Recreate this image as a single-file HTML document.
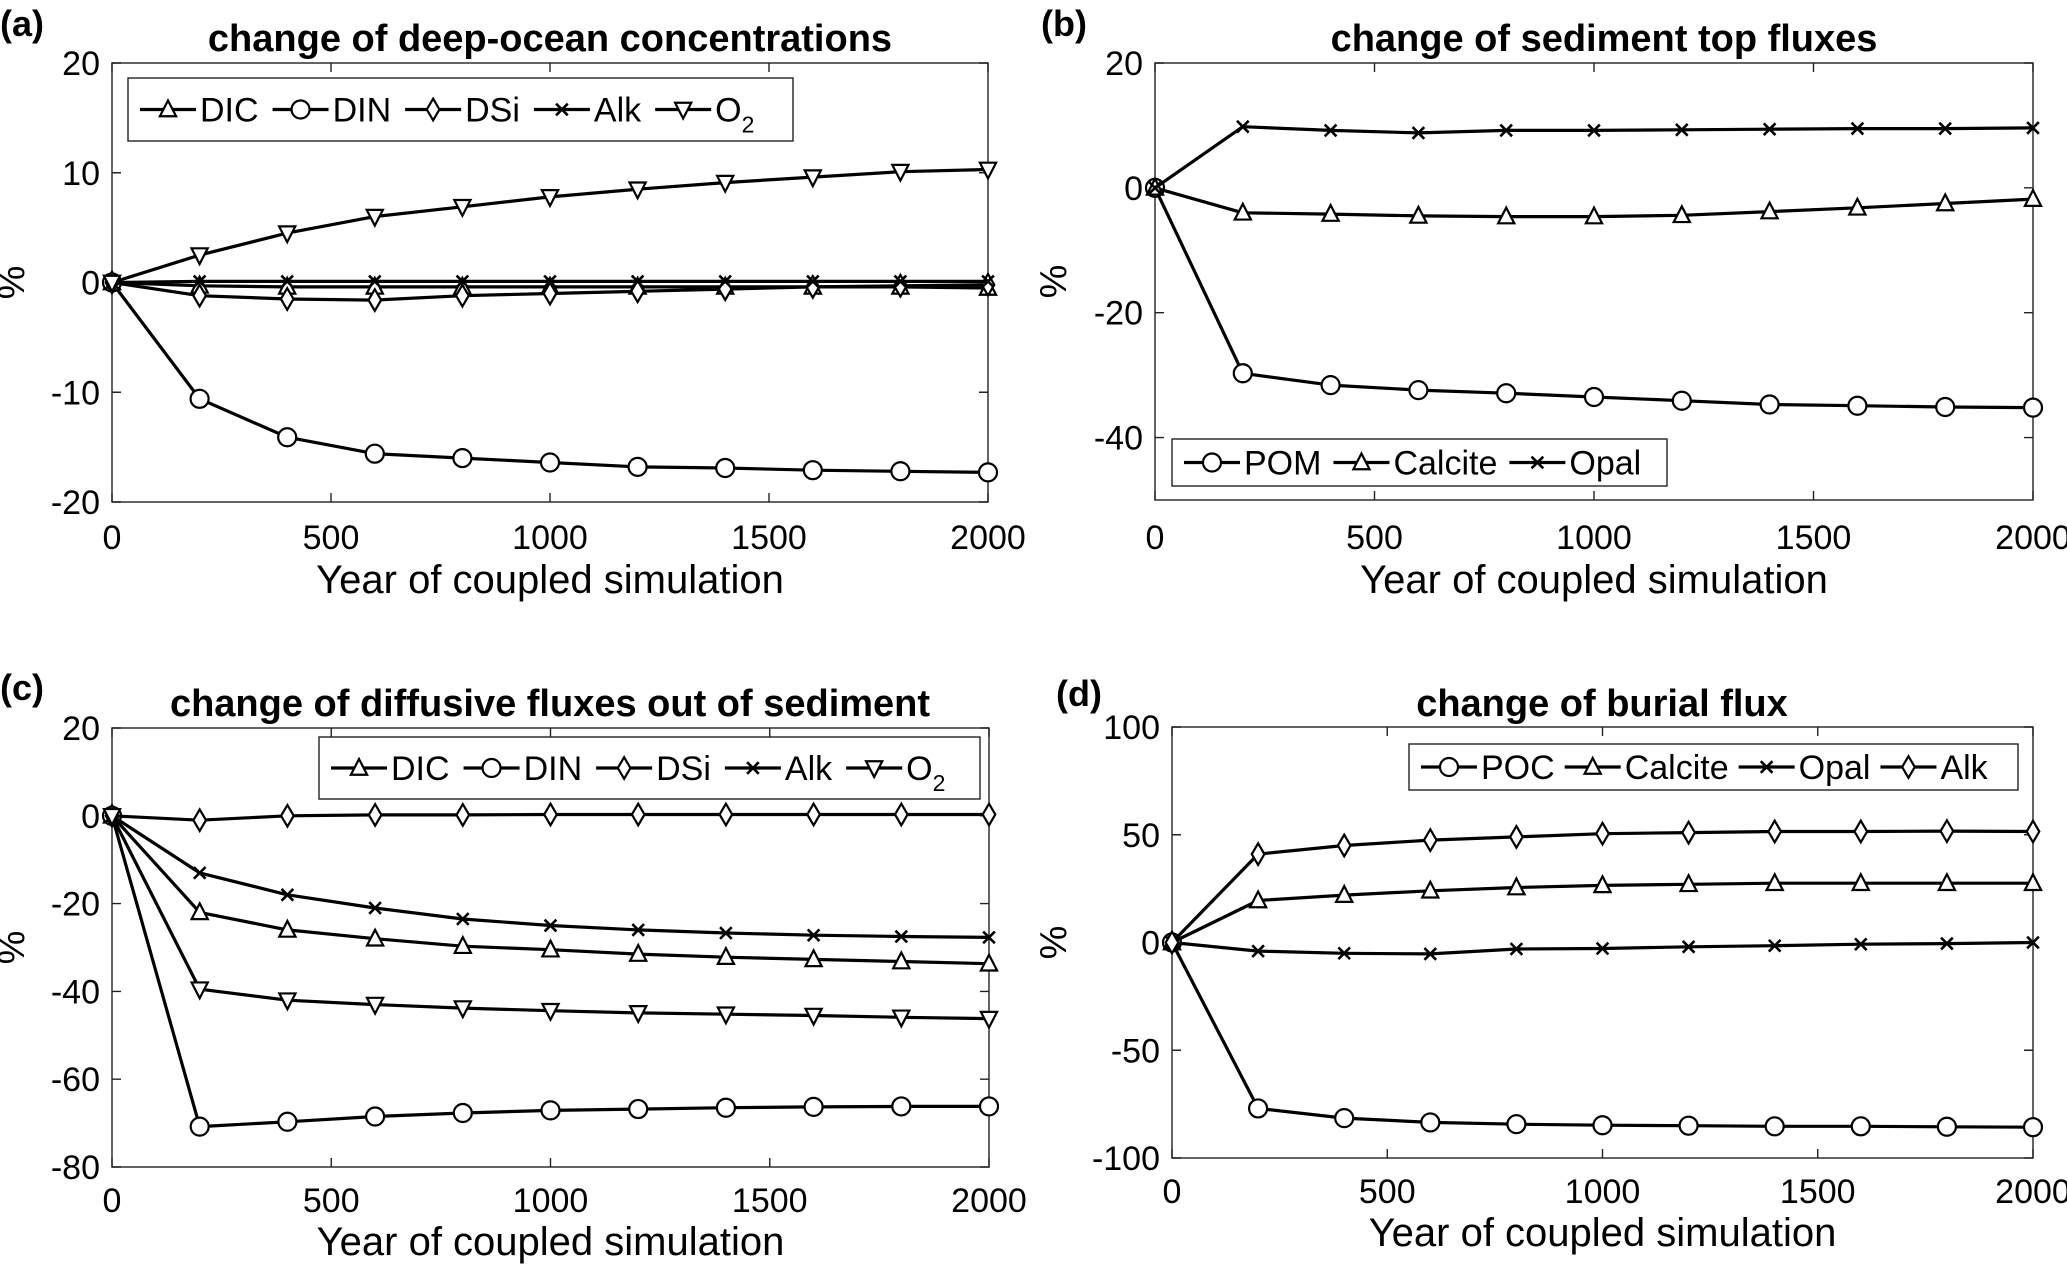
<!DOCTYPE html>
<html><head><meta charset="utf-8"><style>
html,body{margin:0;padding:0;background:#fff;}
svg text{font-family:"Liberation Sans",sans-serif;fill:#000;}
</style></head><body>
<svg id="fig" width="2067" height="1269" viewBox="0 0 2067 1269" xmlns="http://www.w3.org/2000/svg"></svg>
<script>
const years = [0,200,400,600,800,1000,1200,1400,1600,1800,2000];
const xTicks = [0,500,1000,1500,2000];
// panel a
const aDIC = [0,-0.3,-0.4,-0.4,-0.4,-0.4,-0.4,-0.4,-0.4,-0.4,-0.5];
const aDIN = [0,-10.6,-14.1,-15.6,-16.0,-16.4,-16.8,-16.9,-17.1,-17.2,-17.3];
const aDSi = [0,-1.2,-1.5,-1.6,-1.2,-1.0,-0.8,-0.6,-0.4,-0.3,-0.2];
const aAlk = [0,0.1,0.1,0.1,0.1,0.1,0.1,0.1,0.1,0.1,0.1];
const aO2 = [0,2.5,4.5,6.0,6.9,7.8,8.5,9.1,9.6,10.1,10.3];
const aYTicks = [-20,-10,0,10,20];
// panel b
const bPOM = [0,-29.7,-31.6,-32.4,-32.9,-33.5,-34.1,-34.7,-34.9,-35.1,-35.2];
const bCalcite = [0,-4.0,-4.2,-4.5,-4.6,-4.6,-4.4,-3.8,-3.2,-2.5,-1.8];
const bOpal = [0,9.8,9.2,8.8,9.2,9.2,9.3,9.4,9.5,9.5,9.6];
const bYTicks = [-40,-20,0,20];
// panel c
const cDIC = [0,-22,-26,-28,-29.7,-30.5,-31.5,-32.2,-32.7,-33.2,-33.7];
const cDIN = [0,-70.8,-69.7,-68.5,-67.7,-67.1,-66.8,-66.5,-66.3,-66.2,-66.2];
const cDSi = [0,-1,0,0.2,0.2,0.3,0.3,0.3,0.3,0.3,0.3];
const cAlk = [0,-13,-18,-21,-23.5,-25,-26,-26.7,-27.2,-27.5,-27.7];
const cO2 = [0,-39.5,-42,-43,-43.8,-44.4,-44.9,-45.2,-45.5,-45.9,-46.2];
const cYTicks = [-80,-60,-40,-20,0,20];
// panel d
const dPOC = [0,-77,-81.5,-83.5,-84.3,-84.8,-85,-85.3,-85.3,-85.5,-85.7];
const dCalcite = [0,19.5,22,24,25.5,26.5,27,27.5,27.5,27.5,27.5];
const dOpal = [0,-4,-5,-5.3,-3,-2.8,-2,-1.5,-0.8,-0.5,0];
const dAlk = [0,41,45,47.5,49,50.5,51,51.5,51.5,51.7,51.5];
const dYTicks = [-100,-50,0,50,100];

const NS="http://www.w3.org/2000/svg";
const svg=document.getElementById('fig');
function mk(tag,attrs,parent){const e=document.createElementNS(NS,tag);for(const k in attrs)e.setAttribute(k,attrs[k]);(parent||svg).appendChild(e);return e;}

function marker(g,type,cx,cy){
  const r=9; let e;
  const st={fill:'#fff',stroke:'#000','stroke-width':2.2};
  if(type==='circle'){e=mk('circle',Object.assign({cx:cx,cy:cy,r:r},st),g);}
  else if(type==='tri'){e=mk('polygon',Object.assign({points:`${cx},${cy-r} ${cx-r*0.9},${cy+r*0.75} ${cx+r*0.9},${cy+r*0.75}`},st),g);}
  else if(type==='tridown'){e=mk('polygon',Object.assign({points:`${cx},${cy+r} ${cx-r*0.9},${cy-r*0.75} ${cx+r*0.9},${cy-r*0.75}`},st),g);}
  else if(type==='diamond'){e=mk('polygon',Object.assign({points:`${cx},${cy-r*1.2} ${cx+r*0.7},${cy} ${cx},${cy+r*1.2} ${cx-r*0.7},${cy}`},st),g);}
  else if(type==='x'){const s=r*0.65;e=mk('path',{d:`M${cx-s},${cy-s}L${cx+s},${cy+s}M${cx-s},${cy+s}L${cx+s},${cy-s}`,stroke:'#000','stroke-width':2.6,fill:'none'},g);}
  
  
  return e;
}

function panel(p){
  const g=mk('g',{});
  
  
  const X=v=>p.l+(v-0)/(2000-0)*(p.r-p.l);
  const Y=v=>p.b-(v-p.ymin)/(p.ymax-p.ymin)*(p.b-p.t);
  const box=mk('rect',{x:p.l,y:p.t,width:p.r-p.l,height:p.b-p.t,fill:'none',stroke:'#222','stroke-width':1.4},g);
  
  
  const tl=9;
  xTicks.forEach(v=>{
    const x=X(v);
    mk('path',{d:`M${x},${p.b}v${-tl}M${x},${p.t}v${tl}`,stroke:'#222','stroke-width':1.4},g);
    const t=mk('text',{x:x,y:p.tickY,'font-size':34,'text-anchor':'middle'},g);
    t.textContent=v;
    
    
  });
  p.yTicks.forEach(v=>{
    const y=Y(v);
    mk('path',{d:`M${p.l},${y}h${tl}M${p.r},${y}h${-tl}`,stroke:'#222','stroke-width':1.4},g);
    const t=mk('text',{x:p.l-12,y:y+12,'font-size':34,'text-anchor':'end'},g);
    t.textContent=v;
    
    
  });
  const xl=mk('text',{x:(p.l+p.r)/2,y:p.xlabY,'font-size':40,'text-anchor':'middle'},g);
  xl.textContent='Year of coupled simulation';
  
  
  const yl=mk('text',{x:0,y:0,'font-size':38,'text-anchor':'middle',transform:`translate(${p.ylabX},${(p.t+p.b)/2}) rotate(-90)`},g);
  yl.textContent='%';
  
  
  const ti=mk('text',{x:p.titleX,y:p.titleY,'font-size':38,'font-weight':'bold','text-anchor':'middle'},g);
  ti.textContent=p.title;
  
  
  const pl=mk('text',{x:p.labX,y:p.labY,'font-size':36,'font-weight':'bold'},g);
  pl.textContent='('+p.id+')';
  
  
  p.series.forEach(s=>{
    const sg=mk('g',{},g);
    
    
    const d=s.data.map((v,i)=>(i?'L':'M')+X(years[i]).toFixed(1)+','+Y(v).toFixed(1)).join('');
    mk('path',{d:d,fill:'none',stroke:'#000','stroke-width':3.2,'stroke-linejoin':'round'},sg);
    s.data.forEach((v,i)=>marker(sg,s.m,X(years[i]),Y(v)));
  });
  const L=p.leg;
  const lg=mk('g',{},g);
  
  
  mk('rect',{x:L.x,y:L.y,width:L.w,height:L.h,fill:'#fff',stroke:'#222','stroke-width':1.4},lg);
  let cx=L.x+12; const cy=L.y+L.h/2;
  p.series.forEach(s=>{
    const eg=mk('g',{},lg);
    
    
    mk('path',{d:`M${cx},${cy}h56`,stroke:'#000','stroke-width':3.2},eg);
    marker(eg,s.m,cx+28,cy);
    const t=mk('text',{x:cx+60,y:cy+12,'font-size':34},eg);
    if(s.name==='O2'){t.textContent='O';const sub=mk('tspan',{'font-size':23,dy:11},t);sub.textContent='2';}
    else t.textContent=s.name;
    cx+=60+t.getComputedTextLength()+L.gap;
  });
}

panel({id:'a',l:112,r:988,t:63,b:502,ymin:-20,ymax:20,yTicks:aYTicks,tickY:549,xlabY:593,ylabX:24,
  title:'change of deep-ocean concentrations',titleX:550,titleY:51,labX:0,labY:36,
  leg:{x:128,y:78,w:665,h:63,gap:14},
  series:[{name:'DIC',data:aDIC,m:'tri'},{name:'DIN',data:aDIN,m:'circle'},{name:'DSi',data:aDSi,m:'diamond'},{name:'Alk',data:aAlk,m:'x'},{name:'O2',data:aO2,m:'tridown'}]});
panel({id:'b',l:1155,r:2033,t:63,b:500,ymin:-50,ymax:20,yTicks:bYTicks,tickY:549,xlabY:593,ylabX:1066,
  title:'change of sediment top fluxes',titleX:1604,titleY:51,labX:1041,labY:36,
  leg:{x:1172,y:439,w:495,h:47,gap:12},
  series:[{name:'POM',data:bPOM,m:'circle'},{name:'Calcite',data:bCalcite,m:'tri'},{name:'Opal',data:bOpal,m:'x'}]});
panel({id:'c',l:112,r:989,t:728,b:1167,ymin:-80,ymax:20,yTicks:cYTicks,tickY:1212,xlabY:1255,ylabX:24,
  title:'change of diffusive fluxes out of sediment',titleX:550,titleY:716,labX:0,labY:700,
  leg:{x:319,y:737,w:661,h:62,gap:14},
  series:[{name:'DIC',data:cDIC,m:'tri'},{name:'DIN',data:cDIN,m:'circle'},{name:'DSi',data:cDSi,m:'diamond'},{name:'Alk',data:cAlk,m:'x'},{name:'O2',data:cO2,m:'tridown'}]});
panel({id:'d',l:1172,r:2033,t:727,b:1158,ymin:-100,ymax:100,yTicks:dYTicks,tickY:1203,xlabY:1246,ylabX:1066,
  title:'change of burial flux',titleX:1602,titleY:716,labX:1056,labY:706,
  leg:{x:1409,y:744,w:609,h:46,gap:10},
  series:[{name:'POC',data:dPOC,m:'circle'},{name:'Calcite',data:dCalcite,m:'tri'},{name:'Opal',data:dOpal,m:'x'},{name:'Alk',data:dAlk,m:'diamond'}]});
</script>
</body></html>
